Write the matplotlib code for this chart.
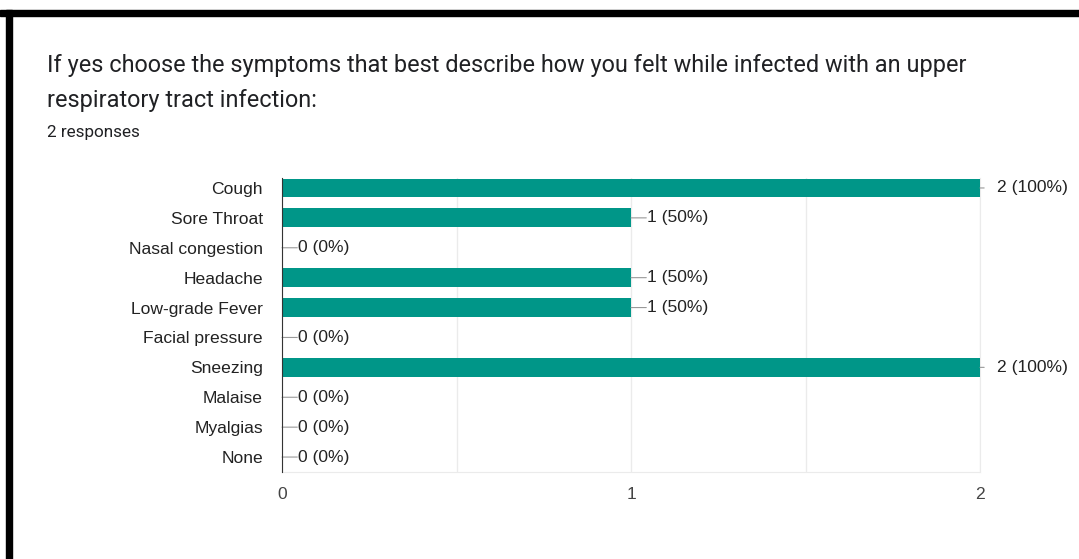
import matplotlib.pyplot as plt
from matplotlib.patches import Rectangle

symptoms = ['Cough', 'Sore Throat', 'Nasal congestion', 'Headache', 'Low-grade Fever',
            'Facial pressure', 'Sneezing', 'Malaise', 'Myalgias', 'None']
counts = [2, 1, 0, 1, 1, 0, 2, 0, 0, 0]
total = 2

title = 'If yes choose the symptoms that best describe how you felt while infected with an upper\nrespiratory tract infection:'
subtitle = '2 responses'

plt.rcParams['font.family'] = ['Liberation Sans', 'DejaVu Sans']

fig = plt.figure(figsize=(10.79, 5.59), dpi=100)
fig.patch.set_facecolor('white')

# black frame pieces (top and left edges of the screenshot)
fig.patches.append(Rectangle((0, 1 - 16/559), 1, 6/559, transform=fig.transFigure, color='black'))
fig.patches.append(Rectangle((6/1079, 0), 6/1079, 1 - 10/559, transform=fig.transFigure, color='black'))

fig.text(47/1079, 1 - 83/559, title, fontsize=16.9, color='#202124', family=['Roboto', 'DejaVu Sans'],
         va='center', linespacing=1.63)
fig.text(47/1079, 1 - 132/559, subtitle, fontsize=12.3, color='#202124', family=['Roboto', 'DejaVu Sans'],
         va='center')

ax = fig.add_axes([282/1079, 1 - 472/559, 698/1079, 294/559])
y = list(range(len(symptoms)))
ax.barh(y, counts, height=0.63, color='#009688', zorder=3)

for yi, c in zip(y, counts):
    pct = round(100 * c / total)
    if c == total:
        ax.annotate('', xy=(c, yi), xytext=(3, 0), textcoords='offset points',
                    arrowprops=dict(arrowstyle='-', color='#999999', lw=0.8, shrinkA=0, shrinkB=0))
        ax.annotate(f'{c} ({pct}%)', xy=(c, yi), xytext=(12, 0), textcoords='offset points',
                    va='center', ha='left', fontsize=12.6, color='#222222', annotation_clip=False)
    else:
        ax.annotate('', xy=(c, yi), xytext=(11, 0), textcoords='offset points',
                    arrowprops=dict(arrowstyle='-', color='#999999', lw=0.8, shrinkA=0, shrinkB=0))
        ax.annotate(f'{c} ({pct}%)', xy=(c, yi), xytext=(11.5, 0), textcoords='offset points',
                    va='center', ha='left', fontsize=12.6, color='#222222')

ax.set_xlim(0, 2)
ax.set_ylim(9 + 0.5, -1/3)
ax.set_yticks(y)
ax.set_yticklabels(symptoms, fontsize=12.6, color='#222222')
ax.set_xticks([0, 1, 2])
ax.set_xticklabels(['0', '1', '2'], fontsize=12.6, color='#444444')
ax.set_xticks([0.5, 1.5], minor=True)
ax.tick_params(axis='both', length=0, which='both')
ax.tick_params(axis='y', pad=13.7)
ax.tick_params(axis='x', pad=10.5)
ax.grid(axis='x', which='both', color='#ebebeb', lw=1, zorder=0)
ax.spines['top'].set_visible(False)
ax.spines['right'].set_color('#ebebeb')
ax.spines['bottom'].set_color('#ebebeb')
ax.spines['left'].set_color('#333333')
ax.spines['left'].set_zorder(4)

fig.savefig('out.png', dpi=100)
